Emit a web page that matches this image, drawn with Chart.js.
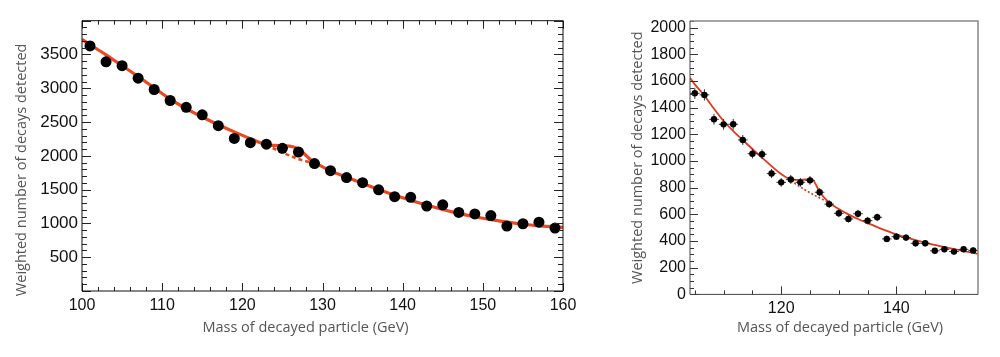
<!DOCTYPE html>
<html><head><meta charset="utf-8">
<script src="https://cdn.jsdelivr.net/npm/chart.js@4.4.0/dist/chart.umd.min.js"></script>
<style>
html,body{margin:0;padding:0;background:#fff;width:1000px;height:357px;overflow:hidden}
#wl{position:absolute;left:0;top:0;width:620px;height:357px}
#wr{position:absolute;left:620px;top:0;width:380px;height:357px}
</style></head><body>
<div id="wl"><canvas id="cl"></canvas></div>
<div id="wr"><canvas id="cr"></canvas></div>
<script>
// ---------- Left panel data ----------
const massL = [101,103,105,107,109,111,113,115,117,119,121,123,125,127,129,131,133,135,137,139,141,143,145,147,149,151,153,155,157,159];
const countsL = [3627,3391,3335,3149,2982,2819,2718,2608,2446,2257,2195,2173,2111,2057,1886,1780,1678,1603,1497,1396,1386,1258,1275,1162,1141,1117,961,995,1018,932];
const fitMassL = [100,101,103,105,107,109,111,113,115,117,119,121,123,124,125,126.3,127.2,128,128.8,129.6,131,133,135,137,139,141,143,145,147,149,151,153,155,157,159,160];
const fitL = [3725,3645,3495,3335,3175,3005,2840,2700,2575,2460,2355,2255,2165,2155,2150,2135,2090,2000,1915,1862,1778,1685,1593,1503,1418,1344,1272,1207,1148,1098,1056,1018,988,965,948,942];
const bgMassL = [123,125,127,128.7];
const bgL = [2160,2048,1952,1895];
const xTicksL = [100,110,120,130,140,150,160];
const xLabelsL = ['100','110','120','130','140','150','160'];
const yTicksL = [500,1000,1500,2000,2500,3000,3500];
const yLabelsL = ['500','1000','1500','2000','2500','3000','3500'];

// ---------- Right panel data ----------
const massR = [105,106.67,108.33,110,111.67,113.33,115,116.67,118.33,120,121.67,123.33,125,126.67,128.33,130,131.67,133.33,135,136.67,138.33,140,141.67,143.33,145,146.67,148.33,150,151.67,153.33];
const countsR = [1508,1496,1313,1275,1276,1158,1055,1051,906,840,862,840,855,766,677,608,566,605,553,578,416,433,426,383,383,327,338,321,338,330];
const errR = [42,42,40,40,40,38,36,36,34,33,33,33,33,31,30,29,28,29,28,28,25,25,25,24,24,22,22,22,22,22];
const binWidthR = 1.667;
const fitMassR = [104.17,105,106.67,108.33,110,111.67,113.33,115,116.67,118.33,120,121.67,123.33,125.3,126.67,128.33,130,131.67,133.33,135,136.67,138.33,140,141.67,143.33,145,146.67,148.33,150,151.67,153.33,154.17];
const fitR = [1625,1575,1490,1392,1300,1225,1158,1090,1025,962,902,862,858,865,768,688,640,600,565,535,505,477,450,428,407,388,371,355,340,325,311,303];
const bgMassR = [121.2,122.5,124,125.5,127,128.33];
const bgR = [873,828,787,750,716,688];
const xTicksR = [120,140];
const xLabelsR = ['120','140'];
const yTicksR = [0,200,400,600,800,1000,1200,1400,1600,1800,2000];
const yLabelsR = ['0','200','400','600','800','1000','1200','1400','1600','1800','2000'];

const xTitle = 'Mass of decayed particle (GeV)';
const yTitle = 'Weighted number of decays detected';

const pts = (xs, ys) => xs.map((x, i) => ({x: x, y: ys[i]}));

// error bars as broken line segments
const hErr = [], vErr = [];
massR.forEach((m, i) => {
  hErr.push({x: m - binWidthR / 2, y: countsR[i]}, {x: m + binWidthR / 2, y: countsR[i]}, {x: m, y: null});
  vErr.push({x: m, y: countsR[i] - errR[i]}, {x: m, y: countsR[i] + errR[i]}, {x: m, y: null});
});

const decor = {
  id: 'decor',
  afterDraw(chart, args, o) {
    const {ctx, chartArea: a, scales: {x, y}} = chart;
    ctx.save();
    const isMaj = (v, s) => Math.abs(v / s - Math.round(v / s)) < 1e-6;
    ctx.lineWidth = 1;
    ctx.strokeStyle = o.tickColor;
    ctx.beginPath();
    for (let v = o.xMinorStart; v <= x.max + 1e-6; v += o.xMinor) {
      const px = Math.round(x.getPixelForValue(v)) + 0.5;
      const L = isMaj(v, o.xMajor) ? o.xMajLen : o.xMinLen;
      ctx.moveTo(px, a.bottom); ctx.lineTo(px, a.bottom - L);
      if (o.allSides) { ctx.moveTo(px, a.top); ctx.lineTo(px, a.top + L); }
    }
    for (let v = o.yMinorStart; v <= y.max + 1e-6; v += o.yMinor) {
      const py = Math.round(y.getPixelForValue(v)) + 0.5;
      const L = isMaj(v, o.yMajor) ? o.yMajLen : o.yMinLen;
      ctx.moveTo(a.left, py); ctx.lineTo(a.left + L, py);
      if (o.allSides) { ctx.moveTo(a.right, py); ctx.lineTo(a.right - L, py); }
    }
    ctx.stroke();
    ctx.lineWidth = o.frameWidth;
    ctx.strokeStyle = o.frameColor;
    ctx.beginPath();
    ctx.moveTo(a.left, a.top); ctx.lineTo(a.right, a.top); ctx.lineTo(a.right, a.bottom);
    ctx.stroke();
    ctx.strokeStyle = o.axisColor;
    ctx.lineWidth = o.axisWidth;
    ctx.beginPath();
    ctx.moveTo(a.left, a.top); ctx.lineTo(a.left, a.bottom); ctx.lineTo(a.right, a.bottom);
    ctx.stroke();
    ctx.fillStyle = '#555';
    ctx.font = o.titleFont;
    ctx.textAlign = 'center';
    ctx.textBaseline = 'middle';
    ctx.fillText(xTitle, (a.left + a.right) / 2 + o.xTitleDx, a.bottom + o.xTitleDy);
    ctx.translate(o.yTitleX, (a.top + a.bottom) / 2 + o.yTitleDy);
    ctx.rotate(-Math.PI / 2);
    ctx.fillText(yTitle, 0, 0);
    ctx.restore();
  }
};

function scaleOpts(min, max, ticks, labels, isX, size, pad, fontSize) {
  return {
    type: 'linear', min: min, max: max,
    afterFit: s => { if (isX) s.height = size; else s.width = size; },
    afterBuildTicks: s => { s.ticks = ticks.map(v => ({value: v})); },
    grid: {display: false, drawTicks: false},
    border: {display: false},
    ticks: {autoSkip: false, maxRotation: 0, padding: pad, color: '#111',
      font: {family: "'Liberation Sans', Arial, sans-serif", size: fontSize},
      callback: (v, i) => labels[i]}
  };
}

new Chart(document.getElementById('cl'), {
  type: 'scatter',
  data: {datasets: [
    {data: pts(massL, countsL), pointRadius: 5.5, pointBackgroundColor: '#000', pointBorderWidth: 0, order: 0},
    {type: 'line', data: pts(fitMassL, fitL), borderColor: '#ea4a22', borderWidth: 3.2, pointRadius: 0, cubicInterpolationMode: 'monotone', fill: false, order: 2},
    {type: 'line', data: pts(bgMassL, bgL), borderColor: '#ea4a22', borderWidth: 2.6, borderDash: [4, 3], pointRadius: 0, fill: false, order: 1}
  ]},
  options: {
    responsive: true, maintainAspectRatio: false, animation: false,
    layout: {padding: {top: 20.7, right: 57, bottom: 0, left: 0}},
    plugins: {legend: {display: false}, tooltip: {enabled: false},
      decor: {tickColor: '#222', allSides: true,
        xMinorStart: 100, xMinor: 2, xMajor: 10, xMajLen: 8, xMinLen: 4,
        yMinorStart: 0, yMinor: 100, yMajor: 500, yMajLen: 9, yMinLen: 5,
        frameColor: '#111', frameWidth: 1, axisColor: '#111', axisWidth: 1,
        titleFont: "14.5px 'Open Sans', sans-serif", xTitleDx: -17, xTitleDy: 36.5, yTitleX: 22, yTitleDy: 14}},
    scales: {
      x: scaleOpts(100, 160, xTicksL, xLabelsL, true, 66, 5, 16),
      y: scaleOpts(0, 4000, yTicksL, yLabelsL, false, 82, 4, 17)
    }
  },
  plugins: [decor]
});

new Chart(document.getElementById('cr'), {
  type: 'scatter',
  data: {datasets: [
    {data: pts(massR, countsR), pointRadius: 3.2, pointBackgroundColor: '#000', pointBorderWidth: 0, order: 0},
    {type: 'line', data: hErr, borderColor: '#333', borderWidth: 1, pointRadius: 0, spanGaps: false, fill: false, order: 1},
    {type: 'line', data: vErr, borderColor: '#333', borderWidth: 1, pointRadius: 0, spanGaps: false, fill: false, order: 1},
    {type: 'line', data: pts(fitMassR, fitR), borderColor: '#de3a1f', borderWidth: 1.8, pointRadius: 0, cubicInterpolationMode: 'monotone', fill: false, order: 3},
    {type: 'line', data: pts(bgMassR, bgR), borderColor: '#de3a1f', borderWidth: 1.6, borderDash: [2, 2], pointRadius: 0, fill: false, order: 2}
  ]},
  options: {
    responsive: true, maintainAspectRatio: false, animation: false,
    layout: {padding: {top: 21, right: 22, bottom: 0, left: 0}},
    plugins: {legend: {display: false}, tooltip: {enabled: false},
      decor: {tickColor: '#333', allSides: false,
        xMinorStart: 105, xMinor: 5, xMajor: 20, xMajLen: 8, xMinLen: 4,
        yMinorStart: 0, yMinor: 50, yMajor: 200, yMajLen: 8, yMinLen: 4,
        frameColor: '#888', frameWidth: 1.5, axisColor: '#444', axisWidth: 1,
        titleFont: "14.5px 'Open Sans', sans-serif", xTitleDx: 6, xTitleDy: 33, yTitleX: 17.5, yTitleDy: 0}},
    scales: {
      x: scaleOpts(104.1667, 154.1667, xTicksR, xLabelsR, true, 62.6, 5, 16),
      y: scaleOpts(0, 2050, yTicksR, yLabelsR, false, 70, 4, 16)
    }
  },
  plugins: [decor]
});
</script>
</body></html>
